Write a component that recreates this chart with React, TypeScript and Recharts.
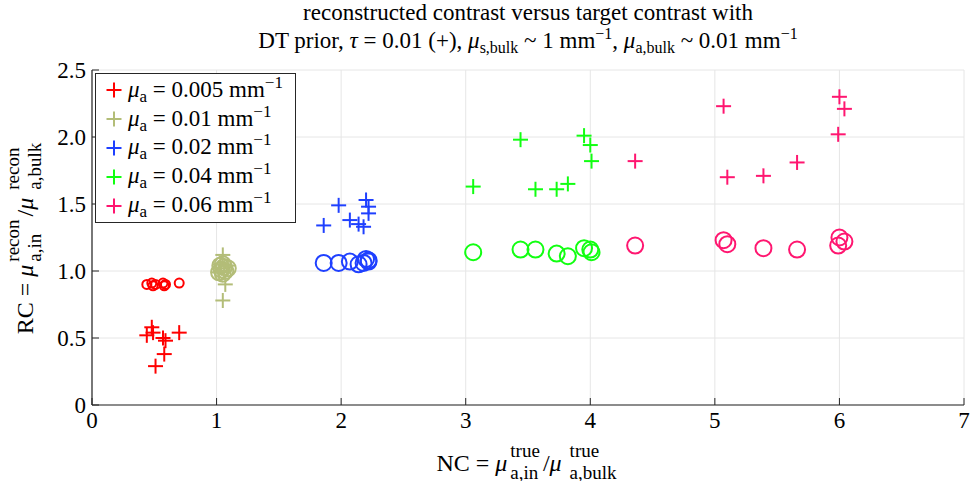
import React from 'react';
import { CartesianGrid, Scatter, ScatterChart, XAxis, YAxis } from 'recharts';

const FONT = '"Liberation Serif", "Times New Roman", serif';
const AXIS = '#262626';

const X_TICKS = [0, 1, 2, 3, 4, 5, 6, 7];
const Y_TICKS = [0, 0.5, 1, 1.5, 2, 2.5];

// NC values (x) and RC values for "+" (tau = 0.01) and "o" markers, per mu_a
const RED_NC = [0.44, 0.48, 0.49, 0.51, 0.57, 0.58, 0.59, 0.7];
const RED_CROSS = [0.52, 0.58, 0.54, 0.29, 0.5, 0.38, 0.48, 0.54];
const RED_CIRCLE = [0.9, 0.91, 0.89, 0.9, 0.91, 0.89, 0.9, 0.91];

const OLIVE_NC = [1.02, 1.03, 1.04, 1.05, 1.05, 1.06, 1.07, 1.09];
const OLIVE_CROSS = [0.99, 1.05, 1.02, 1.12, 0.78, 1.0, 0.9, 1.04];
const OLIVE_CIRCLE = [0.99, 1.04, 1.01, 1.05, 0.98, 1.03, 1.0, 1.02];

const BLUE_NC = [1.86, 1.98, 2.07, 2.14, 2.18, 2.2, 2.22, 2.22];
const BLUE_CROSS = [1.34, 1.49, 1.38, 1.35, 1.33, 1.53, 1.48, 1.43];
const BLUE_CIRCLE = [1.06, 1.06, 1.07, 1.05, 1.06, 1.09, 1.08, 1.07];

const GREEN_NC = [3.06, 3.44, 3.56, 3.73, 3.82, 3.95, 4.0, 4.01];
const GREEN_CROSS = [1.63, 1.98, 1.61, 1.61, 1.65, 2.01, 1.94, 1.82];
const GREEN_CIRCLE = [1.14, 1.16, 1.16, 1.13, 1.11, 1.17, 1.16, 1.14];

const PINK_NC = [4.36, 5.07, 5.1, 5.39, 5.66, 5.99, 6.0, 6.04];
const PINK_CROSS = [1.82, 2.23, 1.7, 1.71, 1.81, 2.02, 2.3, 2.21];
const PINK_CIRCLE = [1.19, 1.23, 1.2, 1.17, 1.16, 1.19, 1.25, 1.22];

const SERIES = [
  { label: '0.005', color: '#ff0000', nc: RED_NC, cross: RED_CROSS, circle: RED_CIRCLE, r: 4.5 },
  { label: '0.01', color: '#b3bd78', nc: OLIVE_NC, cross: OLIVE_CROSS, circle: OLIVE_CIRCLE, r: 8 },
  { label: '0.02', color: '#1f40ff', nc: BLUE_NC, cross: BLUE_CROSS, circle: BLUE_CIRCLE, r: 8 },
  { label: '0.04', color: '#11ff11', nc: GREEN_NC, cross: GREEN_CROSS, circle: GREEN_CIRCLE, r: 8 },
  { label: '0.06', color: '#ff1670', nc: PINK_NC, cross: PINK_CROSS, circle: PINK_CIRCLE, r: 8 },
];

const toPoints = (xs: number[], ys: number[]) => xs.map((x, i) => ({ x, y: ys[i] }));

const crossShape = (color: string) => (props: any) => {
  const { cx, cy } = props;
  if (cx == null || cy == null) return <g />;
  return (
    <g stroke={color} strokeWidth={2}>
      <line x1={cx - 7.5} y1={cy} x2={cx + 7.5} y2={cy} />
      <line x1={cx} y1={cy - 7.5} x2={cx} y2={cy + 7.5} />
    </g>
  );
};

const circleShape = (color: string, r: number) => (props: any) => {
  const { cx, cy } = props;
  if (cx == null || cy == null) return <g />;
  return <circle cx={cx} cy={cy} r={r} fill="none" stroke={color} strokeWidth={2} />;
};

const BottomTick = (props: any) => {
  const { x, y, payload } = props;
  return (
    <g>
      <line x1={x} y1={y} x2={x} y2={y - 7} stroke={AXIS} strokeWidth={1} />
      <text x={x} y={y + 23} textAnchor="middle" fontFamily={FONT} fontSize={23} fill="#000">
        {payload.value}
      </text>
    </g>
  );
};

const TopTick = (props: any) => {
  const { x, y } = props;
  return <line x1={x} y1={y} x2={x} y2={y + 7} stroke={AXIS} strokeWidth={1} />;
};

const LeftTick = (props: any) => {
  const { x, y, payload } = props;
  const v = payload.value as number;
  return (
    <g>
      <line x1={x} y1={y} x2={x + 7} y2={y} stroke={AXIS} strokeWidth={1} />
      <text x={x - 6} y={y} dy="0.35em" textAnchor="end" fontFamily={FONT} fontSize={23} fill="#000">
        {v === 0 ? '0' : v.toFixed(1)}
      </text>
    </g>
  );
};

const RightTick = (props: any) => {
  const { x, y } = props;
  return <line x1={x} y1={y} x2={x - 7} y2={y} stroke={AXIS} strokeWidth={1} />;
};

const Sub = ({ children, size = 16, shift = 5 }: any) => (
  <span style={{ fontSize: size, position: 'relative', top: shift }}>{children}</span>
);

const Sup = ({ children, size = 16, shift = -9 }: any) => (
  <span style={{ fontSize: size, position: 'relative', top: shift }}>{children}</span>
);

// superscript stacked over subscript, as in mu^{true}_{a,in}
const Stack = ({ sup, sub, gap = 3 }: { sup: string; sub: string; gap?: number }) => (
  <span
    style={{
      display: 'inline-flex',
      flexDirection: 'column',
      fontSize: 19,
      lineHeight: '21.5px',
      position: 'relative',
      top: -14,
      marginLeft: gap,
      marginRight: 3,
      verticalAlign: 'baseline',
    }}
  >
    <span>{sup}</span>
    <span>{sub}</span>
  </span>
);

const App: React.FC = () => {
  return (
    <div style={{ position: 'absolute', left: 0, top: 0, width: 970, height: 481, background: '#fff', fontFamily: FONT }}>
      <ScatterChart width={970} height={481} margin={{ top: 70, right: 6, bottom: 46, left: 32 }}>
        <CartesianGrid stroke="#e6e6e6" strokeWidth={1} />
        <XAxis
          type="number"
          dataKey="x"
          domain={[0, 7]}
          ticks={X_TICKS}
          height={30}
          tickSize={0}
          tickMargin={0}
          tickLine={false}
          tick={BottomTick}
          axisLine={{ stroke: AXIS, strokeWidth: 1.2 }}
          allowDataOverflow
        />
        <XAxis
          xAxisId="top"
          orientation="top"
          type="number"
          domain={[0, 7]}
          ticks={X_TICKS}
          height={0}
          tickSize={0}
          tickMargin={0}
          tickLine={false}
          tick={TopTick}
          axisLine={{ stroke: AXIS, strokeWidth: 1.2 }}
          allowDataOverflow
        />
        <YAxis
          type="number"
          dataKey="y"
          domain={[0, 2.5]}
          ticks={Y_TICKS}
          width={60}
          tickSize={0}
          tickMargin={0}
          tickLine={false}
          tick={LeftTick}
          axisLine={{ stroke: AXIS, strokeWidth: 1.2 }}
          allowDataOverflow
        />
        <YAxis
          yAxisId="right"
          orientation="right"
          type="number"
          domain={[0, 2.5]}
          ticks={Y_TICKS}
          width={0}
          tickSize={0}
          tickMargin={0}
          tickLine={false}
          tick={RightTick}
          axisLine={{ stroke: AXIS, strokeWidth: 1.2 }}
          allowDataOverflow
        />
        {SERIES.map((s) => (
          <Scatter
            key={`o-${s.label}`}
            data={toPoints(s.nc, s.circle)}
            shape={circleShape(s.color, s.r)}
            isAnimationActive={false}
          />
        ))}
        {SERIES.map((s) => (
          <Scatter
            key={`p-${s.label}`}
            data={toPoints(s.nc, s.cross)}
            shape={crossShape(s.color)}
            isAnimationActive={false}
          />
        ))}
      </ScatterChart>

      {/* title */}
      <div
        style={{
          position: 'absolute',
          left: 528,
          top: -1,
          transform: 'translateX(-50%)',
          whiteSpace: 'nowrap',
          textAlign: 'center',
          fontSize: 23,
          lineHeight: '28px',
          color: '#000',
        }}
      >
        <div>reconstructed contrast versus target contrast with</div>
        <div>
          DT prior, <i>τ</i> = 0.01 (+), <i>μ</i>
          <Sub>s,bulk</Sub> ~ 1 mm<Sup>−1</Sup>, <i>μ</i>
          <Sub>a,bulk</Sub> ~ 0.01 mm<Sup>−1</Sup>
        </div>
      </div>

      {/* legend */}
      <div
        style={{
          position: 'absolute',
          left: 95,
          top: 73,
          width: 201,
          height: 150,
          border: `1px solid ${AXIS}`,
          background: '#fff',
          boxSizing: 'border-box',
          paddingTop: 2,
        }}
      >
        {SERIES.map((s) => (
          <div key={s.label} style={{ display: 'flex', alignItems: 'center', height: 28.8, whiteSpace: 'nowrap' }}>
            <svg width={32} height={20} style={{ flex: 'none' }}>
              <g stroke={s.color} strokeWidth={2}>
                <line x1={10.5} y1={10} x2={25.5} y2={10} />
                <line x1={18} y1={2.5} x2={18} y2={17.5} />
              </g>
            </svg>
            <span style={{ fontSize: 23, lineHeight: '23px', color: '#000' }}>
              <i>μ</i>
              <Sub size={17} shift={5}>a</Sub> = {s.label} mm<Sup size={17} shift={-9}>−1</Sup>
            </span>
          </div>
        ))}
      </div>

      {/* x label */}
      <div
        style={{
          position: 'absolute',
          left: 528,
          top: 451,
          transform: 'translateX(-50%)',
          whiteSpace: 'nowrap',
          fontSize: 24,
          lineHeight: '24px',
          color: '#000',
        }}
      >
        NC = <i>μ</i>
        <Stack sup="true" sub="a,in" />/<i>μ</i>
        <Stack sup="true" sub="a,bulk" gap={8} />
      </div>

      {/* y label */}
      <div
        style={{
          position: 'absolute',
          left: 36,
          top: 237,
          transform: 'translate(-50%, -50%) rotate(-90deg)',
          whiteSpace: 'nowrap',
          fontSize: 24,
          lineHeight: '24px',
          color: '#000',
        }}
      >
        RC = <i>μ</i>
        <Stack sup="recon" sub="a,in" />/<i>μ</i>
        <Stack sup="recon" sub="a,bulk" gap={8} />
      </div>
    </div>
  );
};

export default App;
